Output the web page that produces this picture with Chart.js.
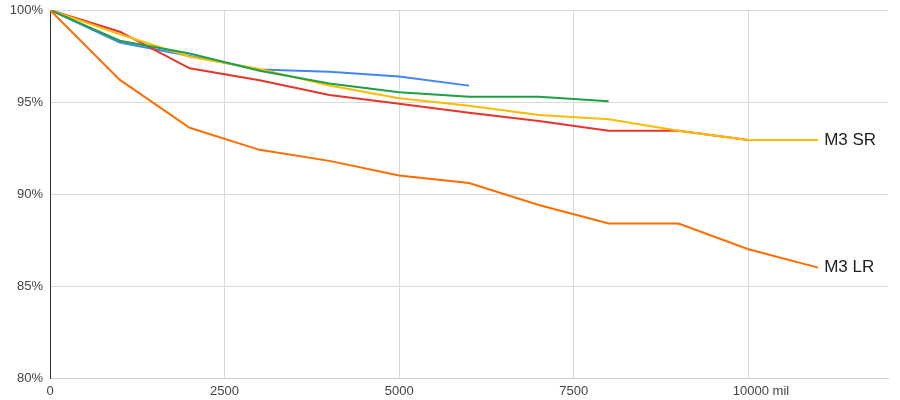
<!DOCTYPE html>
<html>
<head>
<meta charset="utf-8">
<script src="https://cdn.jsdelivr.net/npm/chart.js@4"></script>
<style>
  html, body { margin: 0; padding: 0; background: #fff; }
  #wrap { width: 900px; height: 400px; }
</style>
</head>
<body>
<div id="wrap"><canvas id="c" width="900" height="400"></canvas></div>
<script>
// Mileage points (mil)
const milesLong = [0, 1000, 2000, 3000, 4000, 5000, 6000, 7000, 8000, 9000, 10000, 11000];
const milesRed = [0, 1000, 2000, 3000, 4000, 5000, 6000, 7000, 8000, 9000, 10000];
const milesGreen = [0, 1000, 2000, 3000, 4000, 5000, 6000, 7000, 8000];
const milesBlue = [0, 1000, 2000, 3000, 4000, 5000, 6000];

// Battery capacity (%)
const blueValues = [100, 98.23, 97.5, 96.77, 96.65, 96.38, 95.89];
const redValues = [100, 98.82, 96.83, 96.18, 95.38, 94.9, 94.42, 93.97, 93.44, 93.44, 92.93];
const srValues = [100, 98.68, 97.46, 96.8, 95.9, 95.2, 94.8, 94.3, 94.06, 93.44, 92.93, 92.93];
const greenValues = [100, 98.33, 97.64, 96.7, 96.0, 95.53, 95.29, 95.29, 95.04];
const lrValues = [100, 96.2, 93.6, 92.4, 91.8, 91.0, 90.6, 89.4, 88.4, 88.4, 87.0, 86.0];

const seriesLabels = ['', '', 'M3 SR', '', 'M3 LR'];
const xTicks = [0, 2500, 5000, 7500, 10000];
const xTickLabels = ['0', '2500', '5000', '7500', '10000 mil'];
const yTicks = [80, 85, 90, 95, 100];
const yTickLabels = ['80%', '85%', '90%', '95%', '100%'];

function pts(xs, ys) { return xs.map((x, i) => ({ x: x, y: ys[i] })); }

const endLabels = {
  id: 'endLabels',
  afterDatasetsDraw(chart) {
    const ctx = chart.ctx;
    ctx.save();
    ctx.font = '17px "Liberation Sans", Arial, sans-serif';
    ctx.fillStyle = '#222';
    ctx.textAlign = 'left';
    ctx.textBaseline = 'middle';
    chart.data.datasets.forEach((ds, i) => {
      if (!ds.endLabel) return;
      const meta = chart.getDatasetMeta(i);
      const last = meta.data[meta.data.length - 1];
      ctx.fillText(ds.endLabel, last.x + 6, last.y);
    });
    ctx.restore();
  }
};

new Chart(document.getElementById('c'), {
  type: 'line',
  data: {
    datasets: [
      { data: pts(milesBlue, blueValues), borderColor: '#4285f4', order: 5, endLabel: seriesLabels[0] },
      { data: pts(milesRed, redValues), borderColor: '#e8352a', order: 4, endLabel: seriesLabels[1] },
      { data: pts(milesLong, srValues), borderColor: '#fbbc04', order: 3, endLabel: seriesLabels[2] },
      { data: pts(milesGreen, greenValues), borderColor: '#1fa043', order: 2, endLabel: seriesLabels[3] },
      { data: pts(milesLong, lrValues), borderColor: '#ff6d01', order: 1, endLabel: seriesLabels[4] }
    ]
  },
  options: {
    responsive: false,
    animation: false,
    devicePixelRatio: 1,
    layout: { padding: { top: 10, right: 12, left: 0, bottom: 0 } },
    elements: {
      point: { radius: 0, hoverRadius: 0 },
      line: { borderWidth: 2, tension: 0, fill: false }
    },
    plugins: { legend: { display: false }, tooltip: { enabled: false } },
    scales: {
      x: {
        type: 'linear',
        min: 0,
        max: 12000,
        afterBuildTicks(scale) { scale.ticks = xTicks.map(v => ({ value: v })); },
        afterFit(scale) { scale.height = 22; scale.paddingLeft = 0; scale.paddingRight = 0; },
        grid: { color: '#d9d9d9', drawTicks: false, lineWidth: 1 },
        border: { color: '#cccccc', width: 1 },
        ticks: {
          padding: 6,
          color: '#444',
          font: { family: '"Liberation Sans", Arial, sans-serif', size: 13 },
          maxRotation: 0,
          autoSkip: false,
          callback(value) {
            const i = xTicks.indexOf(value);
            return i === xTicks.length - 1 ? '       ' + xTickLabels[i] : xTickLabels[i];
          }
        }
      },
      y: {
        type: 'linear',
        min: 80,
        max: 100,
        afterBuildTicks(scale) { scale.ticks = yTicks.map(v => ({ value: v })); },
        afterFit(scale) { scale.width = 50; scale.paddingTop = 0; scale.paddingBottom = 0; },
        grid: { color: '#d9d9d9', drawTicks: false, lineWidth: 1 },
        border: { color: '#333333', width: 1 },
        ticks: {
          padding: 7,
          color: '#444',
          font: { family: '"Liberation Sans", Arial, sans-serif', size: 13 },
          callback(value) { return yTickLabels[yTicks.indexOf(value)]; }
        }
      }
    }
  },
  plugins: [endLabels]
});
</script>
</body>
</html>
